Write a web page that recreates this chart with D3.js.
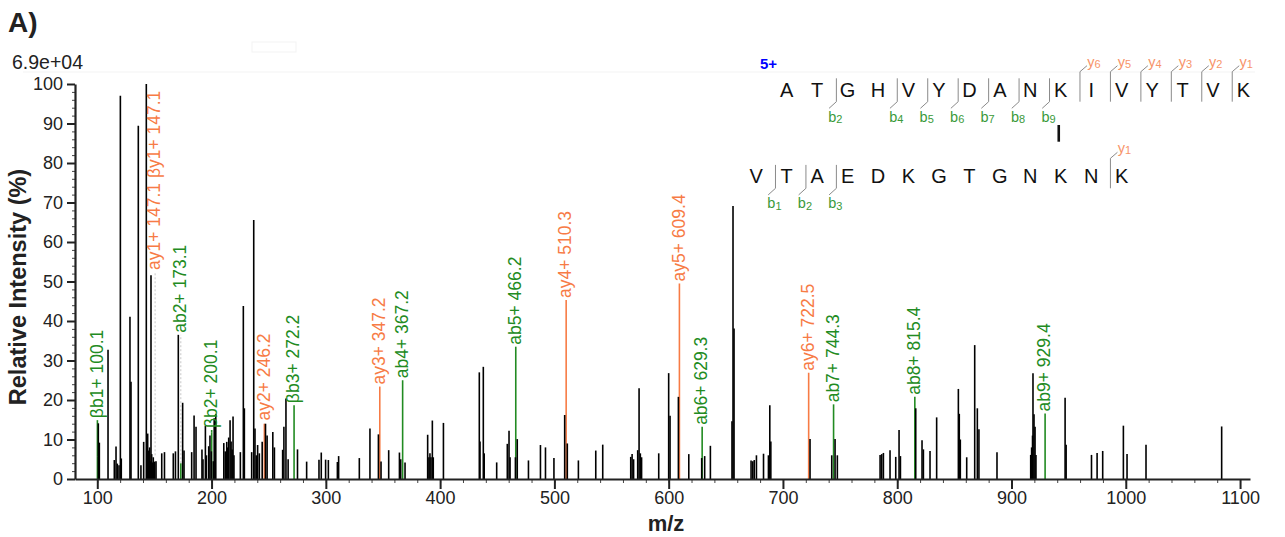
<!DOCTYPE html>
<html>
<head>
<meta charset="utf-8">
<script src="https://cdn.jsdelivr.net/npm/d3@7"></script>
<style>
  body { margin: 0; background: #fff; }
  text { font-family: "Liberation Sans", Arial, sans-serif; }
</style>
</head>
<body>
<div class="chart"></div>
<script>

// spectrum peaks (m/z, relative intensity %)
var peakMz = [100.9, 101.8, 109.4, 114.9, 116.4, 117.5, 119.0, 120.2, 121.0, 128.6, 129.5, 135.9, 138.2, 140.6, 142.9,
  143.6, 144.1, 144.7, 145.2, 145.8, 146.4, 147.0, 147.6, 148.3, 149.0, 150.3, 151.4, 156.4, 158.8, 166.5, 168.4,
  170.9, 174.7, 175.9, 182.6, 184.7, 186.4, 191.6, 192.5, 194.6, 195.5, 197.5, 198.6, 199.8, 201.5, 202.3, 203.7,
  210.7, 212.0, 213.3, 214.2, 215.0, 216.2, 217.1, 218.0, 218.8, 219.6, 225.2, 227.8, 228.7, 235.1, 236.9, 238.0,
  239.2, 240.3, 241.8, 244.3, 247.2, 248.6, 253.6, 255.0, 262.2, 263.3, 265.1, 267.0, 275.2, 283.2, 294.0, 296.0,
  299.8, 302.2, 310.1, 311.2, 329.3, 338.6, 346.0, 348.3, 355.0, 364.4, 365.5, 369.3, 389.1, 390.2, 391.1, 392.0,
  393.2, 394.0, 402.9, 434.3, 434.9, 437.8, 438.6, 449.5, 458.8, 460.3, 461.2, 465.9, 467.5, 477.3, 487.8, 492.2,
  499.6, 509.0, 511.3, 521.0, 536.2, 542.3, 566.8, 568.0, 569.3, 572.9, 574.1, 575.2, 576.3, 591.3, 600.0, 601.2,
  608.5, 617.6, 628.9, 631.5, 636.5, 655.4, 656.3, 657.2, 672.1, 673.6, 674.9, 676.8, 683.0, 687.3, 688.5, 689.4,
  723.7, 742.7, 745.6, 747.6, 785.0, 786.4, 787.9, 793.7, 798.7, 801.6, 802.8, 816.2, 821.7, 822.9, 828.7, 834.5,
  853.5, 854.3, 855.2, 860.8, 867.8, 870.1, 871.5, 887.3, 916.8, 917.6, 918.4, 918.8, 919.7, 920.6, 921.4, 946.9,
  947.8, 970.0, 974.9, 979.8, 997.9, 1001.1, 1017.7, 1083.9];
var peakInt = [14.1, 9.2, 32.7, 4.8, 8.2, 3.9, 3.5, 97.0, 5.2, 41.1, 24.6, 89.4, 3.5, 9.4, 100,
  6.5, 11.5, 7.2, 5.9, 8.0, 4.5, 51.6, 6.3, 4.2, 5.5, 4.4, 4.5, 6.5, 6.8, 6.5, 7.0,
  36.5, 19.3, 7.2, 6.8, 16.1, 13.2, 7.5, 5.0, 13.5, 6.0, 8.3, 11.0, 7.0, 4.5, 15.4, 16.5,
  9.1, 7.0, 9.4, 8.0, 10.5, 14.9, 9.5, 7.5, 15.8, 6.0, 6.8, 43.8, 17.9, 6.8, 65.6, 12.8,
  6.0, 8.6, 6.5, 9.4, 14.0, 11.0, 11.9, 8.0, 7.4, 13.2, 20.4, 5.0, 7.5, 4.4, 4.9, 6.7,
  4.9, 4.8, 4.3, 5.8, 5.3, 12.8, 11.3, 4.4, 7.3, 6.7, 5.0, 4.2, 11.2, 5.5, 6.5, 5.5,
  14.8, 5.5, 14.2, 27.0, 9.5, 28.4, 6.5, 4.2, 8.9, 12.2, 5.5, 5.5, 10.1, 4.7, 8.6, 8.0,
  5.3, 16.2, 9.0, 4.7, 7.2, 8.7, 5.6, 6.3, 5.0, 7.3, 23.0, 6.5, 5.5, 6.5, 26.8, 16.0,
  20.8, 6.3, 5.3, 5.8, 8.4, 14.6, 69.1, 38.1, 4.7, 4.5, 4.8, 6.0, 6.4, 6.0, 18.7, 9.5,
  10.1, 6.0, 10.1, 6.0, 6.1, 6.3, 6.6, 7.3, 5.6, 12.4, 5.8, 17.9, 9.8, 7.5, 7.1, 15.6,
  22.8, 16.5, 10.0, 5.5, 33.9, 17.9, 12.6, 6.8, 6.1, 8.0, 11.0, 26.8, 16.4, 13.2, 6.1, 20.6,
  8.7, 6.1, 6.6, 7.1, 13.5, 6.3, 8.7, 13.3];

// annotated fragment ions
var ionLabel = ["βb1+ 100.1", "ay1+ 147.1 βy1+ 147.1", "ab2+ 173.1", "βb2+ 200.1", "ay2+ 246.2", "βb3+ 272.2",
  "ay3+ 347.2", "ab4+ 367.2", "ab5+ 466.2", "ay4+ 510.3", "ay5+ 609.4", "ab6+ 629.3", "ay6+ 722.5",
  "ab7+ 744.3", "ab8+ 815.4", "ab9+ 929.4"];
var ionMz = [100.1, 147.1, 173.1, 200.1, 246.2, 272.2, 347.2, 367.2, 466.2, 510.3, 609.4, 629.3, 722.5, 744.3, 815.4, 929.4];
var ionInt = [5.6, 6.0, 4.0, 11.7, 14.0, 18.7, 23.4, 25.0, 33.5, 45.3, 49.5, 13.2, 26.9, 18.9, 20.8, 16.6];
var ionLabelAt = [14.9, 52.4, 36.5, 12.4, 14.3, 18.7, 23.4, 25.0, 33.5, 45.3, 49.5, 13.2, 26.9, 18.9, 20.8, 16.6];
var ionType = ["b", "y", "b", "b", "y", "b", "y", "b", "b", "y", "y", "b", "y", "b", "b", "b"];
var dottedLinks = ["ay1+ 147.1 βy1+ 147.1", "ab2+ 173.1"];

// cross-linked peptides
var seqAlpha = "ATGHVYDANKIVYTVK".split("");
var seqBeta = "VTAEDKGTGNKNK".split("");
var alphaB = [2, 4, 5, 6, 7, 8, 9];
var alphaY = [6, 5, 4, 3, 2, 1];
var betaB = [1, 2, 3];
var betaY = [1];
var linkAlpha = 9, linkBeta = 10;
var charge = "5+";

var xTicks = [100, 200, 300, 400, 500, 600, 700, 800, 900, 1000, 1100];
var yTicks = [0, 10, 20, 30, 40, 50, 60, 70, 80, 90, 100];
var maxAbs = "6.9e+04";

var orange = "#f77b45", green = "#228b22";

var svgWidth = 1285, svgHeight = 537;

var svg = d3.select(".chart")
  .append("svg")
  .attr("width", svgWidth)
  .attr("height", svgHeight);

var x = d3.scaleLinear().domain([80.5, 1108.7]).range([75, 1250]);
var y = d3.scaleLinear().domain([0, 100]).range([479, 84]);

// faint frame bits
svg.append("line").attr("x1", 23).attr("x2", 1255).attr("y1", 72).attr("y2", 72)
  .attr("stroke", "#f3f3f3");
svg.append("rect").attr("x", 252).attr("y", 42).attr("width", 44).attr("height", 10)
  .attr("fill", "none").attr("stroke", "#f3f3f3");

svg.append("text").attr("x", 8).attr("y", 31.5)
  .attr("font-size", 28).attr("font-weight", "bold").attr("fill", "#222").text("A)");
svg.append("text").attr("x", 12).attr("y", 69)
  .attr("font-size", 19.5).attr("fill", "#222").text(maxAbs);

// groups, in drawing order
var ionG = svg.append("g");
var peakG = svg.append("g");
var labelG = svg.append("g");
var axisG = svg.append("g");

// minor ticks
axisG.append("g").attr("transform", "translate(0,479)")
  .call(d3.axisBottom(x).tickValues(d3.range(100, 1101, 20)).tickSize(4).tickFormat(""))
  .call(g => g.select(".domain").remove())
  .selectAll("line").attr("stroke", "#444");
axisG.append("g").attr("transform", "translate(75,0)")
  .call(d3.axisLeft(y).tickValues(d3.range(0, 101, 2)).tickSize(3).tickFormat(""))
  .call(g => g.select(".domain").remove())
  .selectAll("line").attr("stroke", "#444");

// main axes
var xAxis = axisG.append("g")
  .attr("transform", "translate(0,479)")
  .call(d3.axisBottom(x).tickValues(xTicks).tickFormat(d3.format("d"))
    .tickSize(10).tickSizeOuter(0).tickPadding(2));
var yAxis = axisG.append("g")
  .attr("transform", "translate(75,0)")
  .call(d3.axisLeft(y).tickValues(yTicks).tickSize(8).tickSizeOuter(0).tickPadding(4));

[xAxis, yAxis].forEach(function(a) {
  a.select(".domain").attr("stroke", "#222").attr("stroke-width", 2.2);
  a.selectAll(".tick line").attr("stroke", "#222").attr("stroke-width", 2);
  a.selectAll(".tick text").attr("font-size", 18).attr("fill", "#222")
    .attr("font-family", "Liberation Sans, Arial, sans-serif");
});

svg.append("text")
  .attr("x", 666).attr("y", 531)
  .attr("text-anchor", "middle").attr("font-size", 22).attr("font-weight", "bold").attr("fill", "#222")
  .text("m/z");
svg.append("text")
  .attr("transform", "translate(26,287) rotate(-90)")
  .attr("text-anchor", "middle").attr("font-size", 23.5).attr("font-weight", "bold").attr("fill", "#222")
  .text("Relative Intensity (%)");

// annotated ions
var ions = ionLabel.map(function(l, i) {
  return { label: l, mz: ionMz[i], inten: ionInt[i], at: ionLabelAt[i],
    color: ionType[i] == "y" ? orange : green, dotted: dottedLinks.indexOf(l) >= 0 };
});
var labelNudge = { "ay1+ 147.1 βy1+ 147.1": 4 };
var lx = d => x(d.mz) + (labelNudge[d.label] || 0);

ionG.selectAll(".ion")
  .data(ions)
  .enter()
  .append("line")
  .attr("x1", d => x(d.mz)).attr("x2", d => x(d.mz))
  .attr("y1", y(0)).attr("y2", d => y(d.inten))
  .attr("stroke", d => d.color).attr("stroke-width", 1.6);

ionG.selectAll(".link")
  .data(ions.filter(d => d.at > d.inten + 0.3))
  .enter()
  .append("line")
  .attr("x1", lx).attr("x2", lx)
  .attr("y1", d => y(d.inten)).attr("y2", d => y(d.at))
  .attr("stroke", d => d.dotted ? "#c8c8c8" : d.color)
  .attr("stroke-dasharray", d => d.dotted ? "2,2" : null)
  .attr("stroke-width", d => d.dotted ? 1 : 1.6);

// black peaks
var peaks = peakMz.map((m, i) => ({ mz: m, inten: peakInt[i] }));
peakG.selectAll("line")
  .data(peaks)
  .enter()
  .append("line")
  .attr("x1", d => x(d.mz)).attr("x2", d => x(d.mz))
  .attr("y1", y(0)).attr("y2", d => y(d.inten))
  .attr("stroke", "#000").attr("stroke-width", 1.6);

labelG.selectAll("text")
  .data(ions)
  .enter()
  .append("text")
  .attr("transform", d => `translate(${lx(d)},${y(d.at) - 2}) rotate(-90)`)
  .attr("dy", "0.3em")
  .attr("font-size", 17.5)
  .attr("fill", d => d.color)
  .text(d => d.label);

// peptide diagram
var px = d3.scaleLinear().domain([0, 1]).range([786.7, 817.15]);
var base1 = 96.7, base2 = 183.3;
var betaShift = linkBeta - linkAlpha;
var pep = svg.append("g");

pep.append("text").attr("x", 760).attr("y", 69)
  .attr("font-size", 15).attr("font-weight", "bold").attr("fill", "#0000ff").text(charge);

pep.selectAll(".aa1").data(seqAlpha).enter().append("text")
  .attr("x", (d, i) => px(i)).attr("y", base1)
  .attr("text-anchor", "middle").attr("font-size", 20).attr("fill", "#111").text(d => d);
pep.selectAll(".aa2").data(seqBeta).enter().append("text")
  .attr("x", (d, i) => px(i - betaShift)).attr("y", base2)
  .attr("text-anchor", "middle").attr("font-size", 20).attr("fill", "#111").text(d => d);

pep.append("line")
  .attr("x1", px(linkAlpha) - 2).attr("x2", px(linkAlpha) - 2)
  .attr("y1", 125).attr("y2", 141.7)
  .attr("stroke", "#111").attr("stroke-width", 2.6);

function drawB(list, shift, base) {
  list.forEach(function(k) {
    var xm = px(k - 1 + 0.5 - shift) + 4;
    pep.append("path")
      .attr("d", `M${xm},${base - 18.4}L${xm},${base + 5}L${xm - 7.3},${base + 11.6}`)
      .attr("fill", "none").attr("stroke", "#8a8a8a").attr("stroke-width", 1);
    var t = pep.append("text").attr("x", xm - 1).attr("y", base + 25)
      .attr("text-anchor", "middle").attr("font-size", 14.5).attr("fill", "#3a9a3a");
    t.append("tspan").text("b");
    t.append("tspan").attr("font-size", 11).attr("dy", 1.5).text(k);
  });
}
function drawY(list, shift, base, len) {
  list.forEach(function(k) {
    var xm = px(len - k - 1 + 0.5 - shift) + 4;
    pep.append("path")
      .attr("d", `M${xm},${base + 5}L${xm},${base - 25}L${xm + 7},${base - 31}`)
      .attr("fill", "none").attr("stroke", "#8a8a8a").attr("stroke-width", 1);
    var t = pep.append("text").attr("x", xm + 14).attr("y", base - 30)
      .attr("text-anchor", "middle").attr("font-size", 14.5).attr("fill", "#f7946a");
    t.append("tspan").text("y");
    t.append("tspan").attr("font-size", 11).attr("dy", 1).text(k);
  });
}
drawB(alphaB, 0, base1);
drawY(alphaY, 0, base1, seqAlpha.length);
drawB(betaB, betaShift, base2);
drawY(betaY, betaShift, base2, seqBeta.length);

</script>
</body>
</html>
